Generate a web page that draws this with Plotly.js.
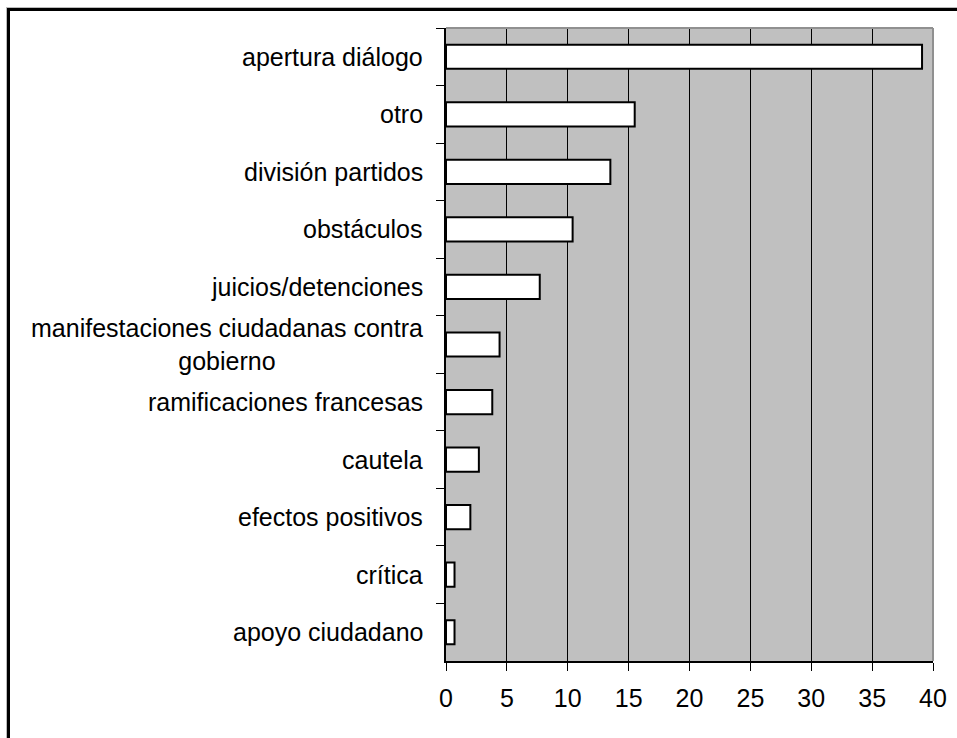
<!DOCTYPE html>
<html>
<head>
<meta charset="utf-8">
<script src="https://cdn.plot.ly/plotly-3.0.1.min.js"></script>
<style>
  html, body { margin: 0; padding: 0; background: #ffffff; overflow: hidden; }
  #frame { position: absolute; left: 0; top: 0; width: 957px; height: 738px; }
  #border { position: absolute; left: 7px; top: 8px; width: 960px; height: 740px;
            border-left: 3px solid #000; border-top: 3px solid #000; box-shadow: -1px -1px 0 #bbbbbb; pointer-events: none; }
  #chart { position: absolute; left: 0; top: 0; width: 957px; height: 738px; }
</style>
</head>
<body>
<div id="frame">
  <div id="chart"></div>
  <div id="border"></div>
</div>
<script>
const categories = [
  "apertura diálogo",
  "otro",
  "división partidos",
  "obstáculos",
  "juicios/detenciones",
  "manifestaciones ciudadanas contra<br>gobierno",
  "ramificaciones francesas",
  "cautela",
  "efectos positivos",
  "crítica",
  "apoyo ciudadano"
];
const values = [39.1, 15.5, 13.5, 10.4, 7.7, 4.4, 3.8, 2.7, 2.0, 0.7, 0.7];
const xTicks = [0, 5, 10, 15, 20, 25, 30, 35, 40];

const FONT = "Arial, 'Liberation Sans', sans-serif";

const trace = {
  type: "bar",
  orientation: "h",
  y: categories,
  x: values,
  width: 0.42,
  marker: { color: "#ffffff", line: { color: "#000000", width: 2 } },
  hoverinfo: "x+y"
};

const annotations = categories.map((c) => ({
  xref: "paper", yref: "y",
  x: 0, y: c,
  xshift: -21,
  xanchor: "right", yanchor: "middle",
  align: "center",
  showarrow: false,
  text: c,
  font: { family: FONT, size: 25, color: "#000000" }
}));

const layout = {
  width: 957, height: 738,
  margin: { l: 446, r: 24, t: 28, b: 77, pad: 0 },
  paper_bgcolor: "#ffffff",
  plot_bgcolor: "#c0c0c0",
  showlegend: false,
  font: { family: FONT, size: 25, color: "#000000" },
  xaxis: {
    range: [0, 40],
    tickvals: xTicks,
    ticktext: xTicks.map(String),
    showgrid: true, gridcolor: "#000000", gridwidth: 1,
    zeroline: false,
    showline: true, linecolor: "#000000", linewidth: 2,
    ticks: "outside", ticklen: 8, tickwidth: 1, tickcolor: "#000000",
    ticklabelstandoff: 6,
    tickfont: { family: FONT, size: 25, color: "#000000" },
    fixedrange: true
  },
  yaxis: {
    type: "category",
    categoryorder: "array",
    categoryarray: categories,
    autorange: "reversed",
    showgrid: false,
    zeroline: false,
    showline: true, linecolor: "#000000", linewidth: 2,
    ticks: "outside", tickson: "boundaries", ticklen: 8, tickwidth: 1, tickcolor: "#000000",
    showticklabels: false,
    fixedrange: true
  },
  shapes: [
    { type: "line", xref: "paper", yref: "paper", x0: 0, x1: 1, y0: 1, y1: 1,
      line: { color: "#909090", width: 2 }, layer: "above" },
    { type: "line", xref: "paper", yref: "paper", x0: 1, x1: 1, y0: 0, y1: 1,
      line: { color: "#909090", width: 2 }, layer: "above" }
  ],
  annotations: annotations
};

Plotly.newPlot("chart", [trace], layout, { displayModeBar: false, staticPlot: true });
</script>
</body>
</html>
